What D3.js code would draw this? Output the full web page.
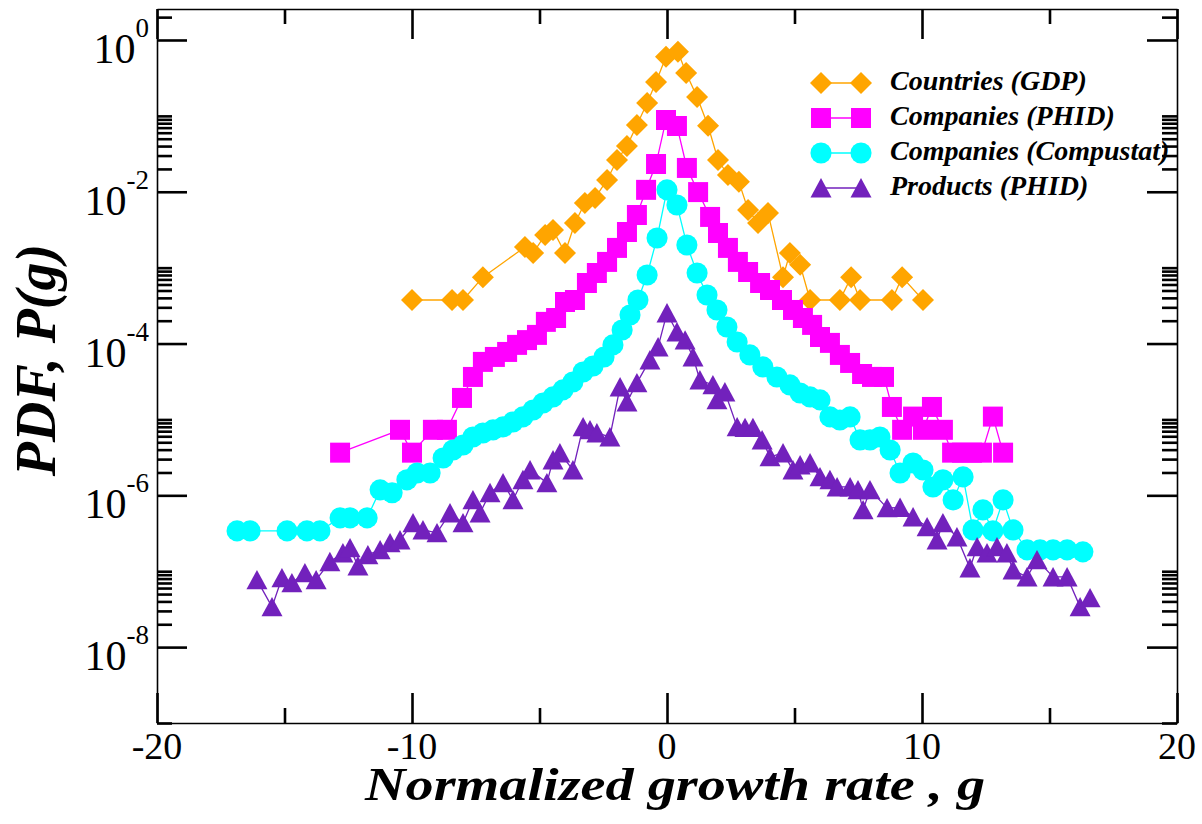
<!DOCTYPE html>
<html>
<head>
<meta charset="utf-8">
<script src="https://cdn.jsdelivr.net/npm/d3@7"></script>
<style>
  html, body { margin: 0; padding: 0; background: #fff; }
  svg { display: block; }
  svg text { font-family: "Liberation Serif", "Times New Roman", Times, serif; }
</style>
</head>
<body>
<svg id="chart" width="1202" height="824"></svg>
<script>
// ---- data: normalized growth rate g and its probability density P(g) ----
const gdpG = [-10.0, -8.43, -8.0, -7.22, -5.57, -5.25, -4.78, -4.47, -4.0, -3.61, -3.22, -2.82, -2.35, -1.96, -1.57, -1.18, -0.78, -0.43, -0.04, 0.43, 0.75, 1.18, 1.61, 2.0, 2.39, 2.82, 3.18, 3.57, 3.96, 4.55, 4.82, 5.22, 5.61, 6.78, 7.22, 7.57, 8.82, 9.22, 10.04];
const gdpP = [3.75e-4, 3.75e-4, 3.75e-4, 7.5e-4, 1.87e-3, 1.56e-3, 2.7e-3, 3.14e-3, 1.56e-3, 3.88e-3, 7.1e-3, 8.3e-3, 1.43e-2, 2.62e-2, 4.0e-2, 7.6e-2, 0.148, 0.28, 0.60, 0.70, 0.367, 0.177, 7.4e-2, 2.62e-2, 1.66e-2, 1.35e-2, 5.75e-3, 3.88e-3, 5.26e-3, 7.5e-4, 1.56e-3, 1.09e-3, 3.75e-4, 3.75e-4, 7.5e-4, 3.75e-4, 3.75e-4, 7.5e-4, 3.75e-4];

const phidCompG = [-12.82, -10.47, -10.0, -9.18, -8.63, -8.04, -7.61, -7.22, -6.75, -6.27, -5.88, -5.49, -5.10, -4.75, -4.35, -4.0, -3.61, -3.14, -2.75, -2.35, -1.96, -1.57, -1.18, -0.82, -0.43, -0.04, 0.39, 0.78, 1.22, 1.69, 2.0, 2.39, 2.78, 3.18, 3.65, 4.04, 4.51, 4.94, 5.33, 5.69, 6.0, 6.39, 6.78, 7.18, 7.65, 8.04, 8.51, 8.82, 9.22, 9.65, 10.04, 10.39, 10.82, 11.18, 11.57, 11.96, 12.35, 12.78, 13.18];
const phidCompP = [3.65e-6, 7.3e-6, 3.65e-6, 7.3e-6, 7.3e-6, 1.92e-5, 3.63e-5, 5.73e-5, 6.66e-5, 7.75e-5, 9.6e-5, 1.11e-4, 1.30e-4, 1.93e-4, 2.17e-4, 3.53e-4, 3.75e-4, 6.28e-4, 8.5e-4, 1.19e-3, 1.82e-3, 2.95e-3, 4.94e-3, 1.06e-2, 2.32e-2, 8.83e-2, 7.36e-2, 2.06e-2, 9.9e-3, 4.66e-3, 2.86e-3, 1.82e-3, 1.19e-3, 8.77e-4, 6.28e-4, 5.08e-4, 3.75e-4, 2.77e-4, 2.17e-4, 1.76e-4, 1.22e-4, 1.02e-4, 7.08e-5, 5.55e-5, 3.97e-5, 3.63e-5, 3.63e-5, 1.46e-5, 7.3e-6, 1.09e-5, 7.3e-6, 1.46e-5, 7.3e-6, 3.65e-6, 3.65e-6, 3.65e-6, 3.65e-6, 1.09e-5, 3.65e-6];

const compustatG = [-16.86, -16.35, -14.90, -14.12, -13.61, -12.82, -12.43, -11.76, -11.25, -10.78, -10.20, -9.80, -9.29, -8.78, -8.39, -8.0, -7.61, -7.22, -6.82, -6.43, -6.04, -5.65, -5.25, -4.86, -4.47, -4.08, -3.69, -3.29, -2.90, -2.47, -2.12, -1.76, -1.45, -1.14, -0.78, -0.39, 0.0, 0.39, 0.78, 1.18, 1.57, 1.96, 2.35, 2.75, 3.25, 3.76, 4.31, 4.82, 5.22, 5.61, 6.0, 6.39, 6.78, 7.18, 7.57, 7.96, 8.35, 8.75, 9.14, 9.65, 10.04, 10.43, 10.82, 11.22, 11.61, 12.0, 12.39, 12.78, 13.18, 13.57, 14.12, 14.63, 15.14, 15.69, 16.31];
const compustatP = [3.4e-7, 3.4e-7, 3.4e-7, 3.4e-7, 3.4e-7, 5.04e-7, 5.04e-7, 5.04e-7, 1.18e-6, 1.08e-6, 1.60e-6, 1.97e-6, 1.97e-6, 3.11e-6, 3.96e-6, 4.61e-6, 5.88e-6, 6.64e-6, 7.28e-6, 7.97e-6, 9.27e-6, 1.08e-5, 1.33e-5, 1.65e-5, 1.98e-5, 2.45e-5, 3.12e-5, 4.22e-5, 5.07e-5, 6.66e-5, 9.6e-5, 1.51e-4, 2.38e-4, 3.75e-4, 8.0e-4, 2.46e-3, 1.06e-2, 6.7e-3, 1.99e-3, 8.5e-4, 4.37e-4, 2.77e-4, 1.65e-4, 1.05e-4, 7.08e-5, 4.92e-5, 3.63e-5, 2.85e-5, 2.23e-5, 1.98e-5, 1.81e-5, 1.08e-5, 9.84e-6, 1.08e-5, 5.37e-6, 5.37e-6, 5.88e-6, 3.96e-6, 1.97e-6, 2.67e-6, 2.16e-6, 1.29e-6, 1.60e-6, 8.7e-7, 1.75e-6, 3.5e-7, 6.43e-7, 3.4e-7, 8.7e-7, 3.5e-7, 1.91e-7, 1.91e-7, 1.91e-7, 1.91e-7, 1.8e-7];

const productsG = [-16.08, -15.49, -15.10, -14.71, -14.20, -13.76, -13.22, -12.71, -12.43, -12.12, -11.73, -11.25, -10.86, -10.47, -9.96, -9.57, -9.02, -8.51, -8.0, -7.61, -7.33, -6.94, -6.43, -6.04, -5.65, -5.37, -4.71, -4.47, -4.20, -3.69, -3.29, -3.02, -2.75, -2.24, -1.84, -1.57, -1.18, -0.67, -0.35, 0.0, 0.39, 0.71, 1.02, 1.29, 1.80, 1.96, 2.27, 2.75, 3.06, 3.37, 3.73, 4.04, 4.55, 4.94, 5.22, 5.61, 6.0, 6.39, 6.67, 7.18, 7.49, 7.69, 7.96, 8.63, 9.14, 9.65, 10.20, 10.59, 10.82, 11.37, 11.88, 12.16, 12.55, 12.94, 13.33, 13.57, 14.12, 14.51, 15.14, 15.69, 16.20, 16.59];
const productsP = [7.68e-8, 3.39e-8, 8.16e-8, 7.02e-8, 9.5e-8, 7.68e-8, 1.33e-7, 1.74e-7, 2.03e-7, 1.17e-7, 1.64e-7, 1.91e-7, 2.36e-7, 2.58e-7, 4.33e-7, 3.5e-7, 3.2e-7, 5.86e-7, 4.33e-7, 8.7e-7, 5.86e-7, 1.08e-6, 1.46e-6, 8.7e-7, 1.6e-6, 2.16e-6, 1.46e-6, 2.92e-6, 3.62e-6, 2.16e-6, 7.97e-6, 7.28e-6, 6.64e-6, 5.88e-6, 2.68e-5, 1.7e-5, 3.03e-5, 6.08e-5, 9.0e-5, 2.53e-4, 1.42e-4, 1.11e-4, 6.66e-5, 3.31e-5, 2.85e-5, 1.81e-5, 2.3e-5, 7.97e-6, 7.8e-6, 7.8e-6, 5.37e-6, 3.21e-6, 3.62e-6, 2.16e-6, 2.51e-6, 2.67e-6, 1.75e-6, 1.6e-6, 1.29e-6, 1.29e-6, 1.18e-6, 6.43e-7, 1.18e-6, 6.83e-7, 6.9e-7, 5.19e-7, 3.84e-7, 2.58e-7, 4.33e-7, 2.83e-7, 1.1e-7, 2.09e-7, 1.74e-7, 2.09e-7, 1.74e-7, 1.04e-7, 8.4e-8, 1.41e-7, 8.4e-8, 8.4e-8, 3.39e-8, 4.45e-8];

const seriesNames = ["Countries (GDP)", "Companies (PHID)", "Companies (Compustat)", "Products (PHID)"];

// ---- axis ticks ----
const xMajorTicks = [-20, -10, 0, 10, 20];
const xMinorTicks = [-15, -5, 5, 15];
const yMajorExponents = [0, -2, -4, -6, -8];

// ---- layout ----
const L = 157, R = 1177, T = 9, B = 723;
const svg = d3.select("#chart");

const x = d3.scaleLinear().domain([-20, 20]).range([L, R]);
const y = d3.scaleLog().domain([1e-9, 2.56]).range([B, T]);

// minor log ticks: 2..10 times each labelled decade
const yMajorTicks = yMajorExponents.map(e => Math.pow(10, e));
const yMinorTicks = [];
[-10, -8, -6, -4, -2, 0].forEach(e => {
  for (let k = 2; k <= 10; k++) {
    const v = k * Math.pow(10, e);
    if (v >= 1e-9 * 0.999 && v <= 2.56) yMinorTicks.push(v);
  }
});

// ---- marker shapes ----
const diamond = {
  draw(ctx, size) {
    const r = Math.sqrt(size) / 2;
    ctx.moveTo(0, -r); ctx.lineTo(r, 0); ctx.lineTo(0, r); ctx.lineTo(-r, 0); ctx.closePath();
  }
};
const triangle = {
  draw(ctx, size) {
    const w = Math.sqrt(size) / 2;
    ctx.moveTo(0, -w * 0.95); ctx.lineTo(w, w * 0.9); ctx.lineTo(-w, w * 0.9); ctx.closePath();
  }
};

const series = [
  { name: seriesNames[0], g: gdpG, p: gdpP, color: "#ffa500", type: diamond, size: 484 },
  { name: seriesNames[1], g: phidCompG, p: phidCompP, color: "#ff00ff", type: d3.symbolSquare, size: 400 },
  { name: seriesNames[2], g: compustatG, p: compustatP, color: "#00ffff", type: d3.symbolCircle, size: 350 },
  { name: seriesNames[3], g: productsG, p: productsP, color: "#7221bc", type: triangle, size: 441 }
];

// ---- data layers ----
const line = d3.line().x(d => x(d[0])).y(d => y(d[1]));
const plot = svg.append("g");
series.forEach(s => {
  const pts = s.g.map((g, i) => [g, s.p[i]]);
  const grp = plot.append("g");
  grp.append("path")
    .attr("d", line(pts))
    .attr("fill", "none")
    .attr("stroke", s.color)
    .attr("stroke-width", 1.3);
  grp.selectAll("path.mk").data(pts).join("path")
    .attr("class", "mk")
    .attr("transform", d => `translate(${x(d[0])},${y(d[1])})`)
    .attr("d", d3.symbol().type(s.type).size(s.size))
    .attr("fill", s.color);
});

// ---- axes (ticks pointing inward on all four sides) ----
function addAxis(gen, tx, ty, showDomain, sw) {
  const g = svg.append("g").attr("transform", `translate(${tx},${ty})`).call(gen);
  g.selectAll("text").remove();
  g.selectAll(".tick line").attr("stroke", "#000").attr("stroke-width", sw);
  if (showDomain) g.select(".domain").attr("stroke", "#000").attr("stroke-width", 1.6);
  else g.select(".domain").remove();
  return g;
}
const fmtNone = () => "";
addAxis(d3.axisBottom(x).tickValues(xMajorTicks).tickSize(-30).tickSizeOuter(0).tickFormat(fmtNone), 0, B, true, 2.6);
addAxis(d3.axisBottom(x).tickValues(xMinorTicks).tickSize(-15).tickFormat(fmtNone), 0, B, false, 2.6);
addAxis(d3.axisTop(x).tickValues(xMajorTicks).tickSize(-30).tickSizeOuter(0).tickFormat(fmtNone), 0, T, true, 2.6);
addAxis(d3.axisTop(x).tickValues(xMinorTicks).tickSize(-15).tickFormat(fmtNone), 0, T, false, 2.6);
addAxis(d3.axisLeft(y).tickValues(yMajorTicks).tickSize(-30).tickSizeOuter(0).tickFormat(fmtNone), L, 0, true, 2.6);
addAxis(d3.axisLeft(y).tickValues(yMinorTicks).tickSize(-15).tickFormat(fmtNone), L, 0, false, 2.6);
addAxis(d3.axisRight(y).tickValues(yMajorTicks).tickSize(-30).tickSizeOuter(0).tickFormat(fmtNone), R, 0, true, 2.6);
addAxis(d3.axisRight(y).tickValues(yMinorTicks).tickSize(-15).tickFormat(fmtNone), R, 0, false, 2.6);

// ---- tick labels ----
svg.append("g").selectAll("text").data(xMajorTicks).join("text")
  .attr("x", d => x(d))
  .attr("y", 759)
  .attr("text-anchor", "middle")
  .attr("font-size", 38)
  .attr("fill", "#000")
  .text(d => String(d));

const yLab = svg.append("g").selectAll("text").data(yMajorExponents).join("text")
  .attr("x", 149)
  .attr("y", e => y(Math.pow(10, e)) + 23)
  .attr("text-anchor", "end")
  .attr("fill", "#000");
yLab.append("tspan").attr("font-size", 42).text("10");
yLab.append("tspan").attr("font-size", 27).attr("dy", -26).text(e => String(e));

// ---- axis titles ----
svg.append("text")
  .attr("x", 365)
  .attr("y", 800)
  .attr("font-weight", "bold")
  .attr("font-style", "italic")
  .attr("font-size", 46)
  .attr("textLength", 620)
  .attr("lengthAdjust", "spacingAndGlyphs")
  .attr("fill", "#000")
  .text("Normalized growth rate , g");

svg.append("text")
  .attr("transform", "translate(55,360) rotate(-90)")
  .attr("text-anchor", "middle")
  .attr("font-weight", "bold")
  .attr("font-style", "italic")
  .attr("font-size", 56)
  .attr("fill", "#000")
  .text("PDF, P(g)");

// ---- legend ----
const legendY = [83, 118, 153, 188];
const leg = svg.append("g");
series.forEach((s, i) => {
  const row = leg.append("g").attr("transform", `translate(0,${legendY[i]})`);
  row.append("line").attr("x1", 821).attr("x2", 861).attr("y1", 0).attr("y2", 0)
    .attr("stroke", s.color).attr("stroke-width", 1.3);
  [821, 861].forEach(cx => {
    row.append("path")
      .attr("transform", `translate(${cx},0)`)
      .attr("d", d3.symbol().type(s.type).size(s.size)())
      .attr("fill", s.color);
  });
  row.append("text")
    .attr("x", 890)
    .attr("y", 7)
    .attr("font-weight", "bold")
    .attr("font-style", "italic")
    .attr("font-size", 28)
    .attr("fill", "#000")
    .text(s.name);
});
</script>
</body>
</html>
